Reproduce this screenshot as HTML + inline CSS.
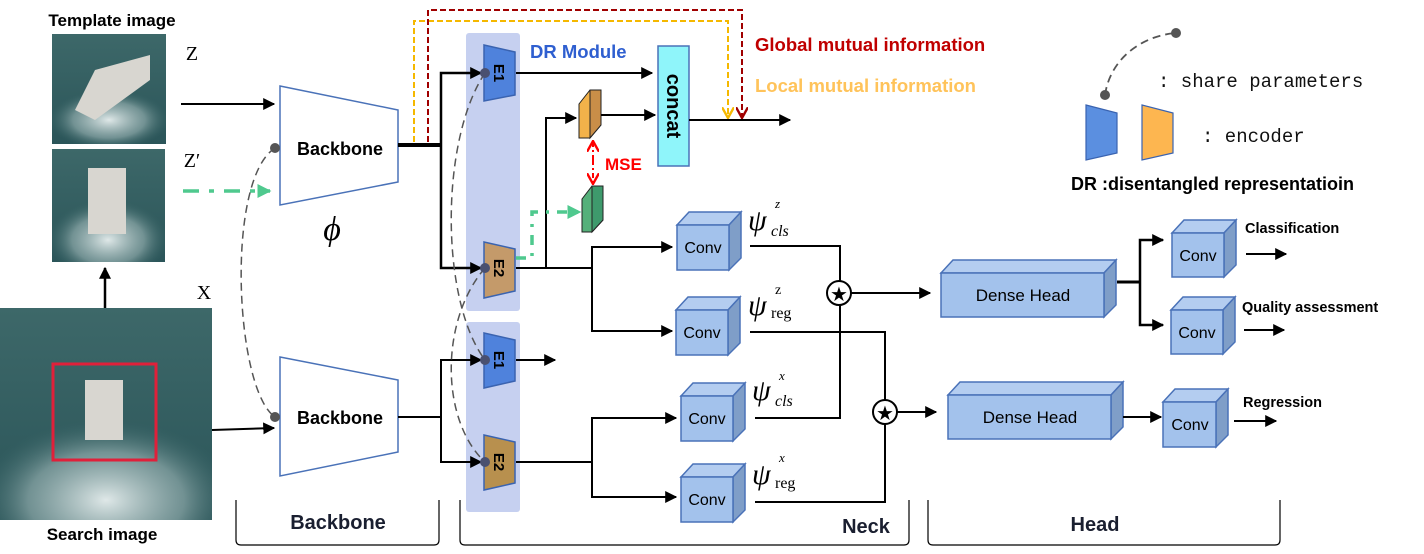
<!DOCTYPE html>
<html><head><meta charset="utf-8"><style>
html,body{margin:0;padding:0;background:#fff}
svg{display:block}
text{font-family:"Liberation Sans",sans-serif}
.b{font-weight:bold}
text.ser{font-family:"Liberation Serif",serif}
text.mono{font-family:"Liberation Mono",monospace}
</style></head><body>
<svg width="1424" height="554" viewBox="0 0 1424 554" xmlns="http://www.w3.org/2000/svg">
<defs>
<marker id="ar2" viewBox="0 0 10 10" refX="9" refY="5" markerWidth="12" markerHeight="12" orient="auto" markerUnits="userSpaceOnUse"><path d="M0,0 L10,5 L0,10z" fill="#000"/></marker>
<marker id="ag" viewBox="0 0 10 10" refX="9" refY="5" markerWidth="14" markerHeight="14" orient="auto" markerUnits="userSpaceOnUse"><path d="M0,0 L10,5 L0,10z" fill="#4fc98e"/></marker>
<marker id="vy" viewBox="0 0 10 10" refX="9" refY="5" markerWidth="12" markerHeight="12" orient="auto" markerUnits="userSpaceOnUse"><path d="M0,0 L9,5 L0,10" fill="none" stroke="#f5b800" stroke-width="2"/></marker>
<marker id="vr" viewBox="0 0 10 10" refX="9" refY="5" markerWidth="12" markerHeight="12" orient="auto" markerUnits="userSpaceOnUse"><path d="M0,0 L9,5 L0,10" fill="none" stroke="#a00000" stroke-width="2"/></marker>
<marker id="vm" viewBox="0 0 10 10" refX="9" refY="5" markerWidth="12" markerHeight="12" orient="auto" markerUnits="userSpaceOnUse"><path d="M0,0 L9,5 L0,10" fill="none" stroke="#ff0000" stroke-width="2"/></marker>
<linearGradient id="sea" x1="0" y1="0" x2="0" y2="1"><stop offset="0" stop-color="#3d6869"/><stop offset="1" stop-color="#2b5559"/></linearGradient>
<radialGradient id="wake" cx="0.5" cy="0.5" r="0.5"><stop offset="0" stop-color="#dfe8e8"/><stop offset="0.6" stop-color="#9fb8b8" stop-opacity="0.6"/><stop offset="1" stop-color="#3f6b6c" stop-opacity="0"/></radialGradient>
<clipPath id="c1"><rect x="52" y="34" width="114" height="110"/></clipPath>
<clipPath id="c2"><rect x="52" y="149" width="113" height="113"/></clipPath>
<clipPath id="c3"><rect x="0" y="308" width="212" height="212"/></clipPath>
</defs>

<!-- images -->
<text x="112" y="26" text-anchor="middle" class="b" font-size="17">Template image</text>
<rect x="52" y="34" width="114" height="110" fill="url(#sea)"/>
<ellipse cx="109" cy="120" rx="60" ry="30" fill="url(#wake)" clip-path="url(#c1)"/>
<path d="M75,110 L95,70 L150,55 L150,80 L95,120z" fill="#d8d6d0"/>
<rect x="52" y="149" width="113" height="113" fill="url(#sea)"/>
<ellipse cx="108" cy="240" rx="60" ry="40" fill="url(#wake)" clip-path="url(#c2)"/>
<rect x="88" y="168" width="38" height="66" fill="#d8d6d0"/>
<line x1="105" y1="310" x2="105" y2="268" stroke="#000" stroke-width="2.5" marker-end="url(#ar2)"/>
<rect x="0" y="308" width="212" height="212" fill="url(#sea)"/>
<ellipse cx="106" cy="500" rx="130" ry="80" fill="url(#wake)" clip-path="url(#c3)"/>
<rect x="85" y="380" width="38" height="60" fill="#d8d6d0"/>
<rect x="53" y="364" width="103" height="96" fill="none" stroke="#e0203a" stroke-width="3"/>
<text x="102" y="540" text-anchor="middle" class="b" font-size="17">Search image</text>

<text x="192" y="60" class="ser" font-size="20" text-anchor="middle">Z</text>
<text x="192" y="167" class="ser" font-size="20" text-anchor="middle">Z′</text>
<text x="204" y="299" class="ser" font-size="20" text-anchor="middle">X</text>
<line x1="181" y1="104" x2="274" y2="104" stroke="#000" stroke-width="2" marker-end="url(#ar2)"/>
<line x1="183" y1="191" x2="270" y2="191" stroke="#4fc98e" stroke-width="3.5" stroke-dasharray="16,10,5,10" marker-end="url(#ag)"/>
<line x1="212" y1="430" x2="274" y2="428" stroke="#000" stroke-width="2" marker-end="url(#ar2)"/>

<!-- backbones -->
<polygon points="280,86 398,110 398,182 280,205" fill="#fff" stroke="#4a72b8" stroke-width="1.5"/>
<text x="340" y="155" text-anchor="middle" class="b" font-size="18">Backbone</text>
<text x="332" y="240" text-anchor="middle" class="ser" font-style="italic" font-size="34">ϕ</text>
<polygon points="280,357 398,380 398,452 280,476" fill="#fff" stroke="#4a72b8" stroke-width="1.5"/>
<text x="340" y="424" text-anchor="middle" class="b" font-size="18">Backbone</text>
<path d="M275,148 C225,180 235,390 275,417" fill="none" stroke="#555" stroke-width="1.5" stroke-dasharray="8,5"/>
<circle cx="275" cy="148" r="5" fill="#555"/><circle cx="275" cy="417" r="5" fill="#555"/>

<!-- panels -->
<rect x="466" y="33" width="54" height="278" rx="3" fill="#c6d0f0"/>
<rect x="466" y="322" width="54" height="190" rx="3" fill="#c6d0f0"/>

<line x1="398" y1="145" x2="441" y2="145" stroke="#000" stroke-width="4"/>
<polyline points="441,145 441,73 481,73" fill="none" stroke="#000" stroke-width="2.5" marker-end="url(#ar2)"/>
<polyline points="441,145 441,268 481,268" fill="none" stroke="#000" stroke-width="2.5" marker-end="url(#ar2)"/>
<line x1="398" y1="417" x2="441" y2="417" stroke="#000" stroke-width="2"/>
<polyline points="441,417 441,360 481,360" fill="none" stroke="#000" stroke-width="2" marker-end="url(#ar2)"/>
<polyline points="441,417 441,462 481,462" fill="none" stroke="#000" stroke-width="2" marker-end="url(#ar2)"/>

<!-- MI dashed -->
<polyline points="414,142 414,21 728,21 728,118" fill="none" stroke="#f5b800" stroke-width="2" stroke-dasharray="6,3" marker-end="url(#vy)"/>
<polyline points="428,142 428,10 742,10 742,118" fill="none" stroke="#a00000" stroke-width="2" stroke-dasharray="6,3" marker-end="url(#vr)"/>
<text x="755" y="51" class="b" font-size="18.5" fill="#c00000">Global mutual information</text>
<text x="755" y="92" class="b" font-size="18.5" fill="#ffc35a">Local mutual information</text>
<text x="530" y="58" class="b" font-size="18.5" fill="#2f5fd0">DR Module</text>

<!-- encoders -->
<g stroke="#3a63b0" stroke-width="1.5">
<polygon points="484,45 515,52 515,95 484,101" fill="#4f82dc"/>
<polygon points="484,242 515,249 515,291 484,298" fill="#c49a6a"/>
<polygon points="484,333 515,340 515,381 484,388" fill="#4f82dc"/>
<polygon points="484,435 515,442 515,483 484,490" fill="#b8904e"/>
</g>
<g class="b" font-size="15">
<text transform="translate(494,73) rotate(90)" text-anchor="middle" class="b">E1</text>
<text transform="translate(494,268) rotate(90)" text-anchor="middle" class="b">E2</text>
<text transform="translate(494,360) rotate(90)" text-anchor="middle" class="b">E1</text>
<text transform="translate(494,462) rotate(90)" text-anchor="middle" class="b">E2</text>
</g>
<path d="M485,73 C440,140 440,300 485,360" fill="none" stroke="#555" stroke-width="1.5" stroke-dasharray="8,5"/>
<path d="M485,268 C440,320 440,420 485,462" fill="none" stroke="#555" stroke-width="1.5" stroke-dasharray="8,5"/>
<g fill="#4a5070"><circle cx="485" cy="73" r="5"/><circle cx="485" cy="268" r="5"/><circle cx="485" cy="360" r="5"/><circle cx="485" cy="462" r="5"/></g>

<line x1="516" y1="73" x2="652" y2="73" stroke="#000" stroke-width="2" marker-end="url(#ar2)"/>
<line x1="516" y1="360" x2="555" y2="360" stroke="#000" stroke-width="2" marker-end="url(#ar2)"/>
<rect x="658" y="46" width="31" height="120" fill="#8ff5fa" stroke="#4a72b8" stroke-width="1.5"/>
<text transform="translate(667,106) rotate(90)" text-anchor="middle" class="b" font-size="20">concat</text>
<line x1="689" y1="120" x2="790" y2="120" stroke="#000" stroke-width="2" marker-end="url(#ar2)"/>
<polygon points="579,104 590,90 601,90 601,125 590,138 579,138" fill="#f2b24a" stroke="#222" stroke-width="1"/>
<polygon points="590,90 601,90 601,125 590,138" fill="#c98e48" stroke="#222" stroke-width="1"/>
<polygon points="582,199 592,186 603,186 603,220 592,232 582,232" fill="#55b07a" stroke="#222" stroke-width="1"/>
<polygon points="592,186 603,186 603,220 592,232" fill="#3e9a6c" stroke="#222" stroke-width="1"/>
<polyline points="516,268 592,268" fill="none" stroke="#000" stroke-width="2"/>
<polyline points="546,268 546,118 576,118" fill="none" stroke="#000" stroke-width="2" marker-end="url(#ar2)"/>
<line x1="601" y1="115" x2="655" y2="115" stroke="#000" stroke-width="2" marker-end="url(#ar2)"/>
<polyline points="516,258 532,258 532,212 580,212" fill="none" stroke="#4fc98e" stroke-width="3.5" stroke-dasharray="10,8,3,8" marker-end="url(#ag)"/>
<line x1="593" y1="160" x2="593" y2="141" stroke="#ff0000" stroke-width="2" stroke-dasharray="5,3,2,3" marker-end="url(#vm)"/>
<line x1="593" y1="160" x2="593" y2="184" stroke="#ff0000" stroke-width="2" stroke-dasharray="5,3,2,3" marker-end="url(#vm)"/>
<text x="605" y="170" class="b" font-size="17" fill="#ff0000">MSE</text>

<polyline points="592,268 592,247 672,247" fill="none" stroke="#000" stroke-width="2" marker-end="url(#ar2)"/>
<polyline points="592,268 592,331 672,331" fill="none" stroke="#000" stroke-width="2" marker-end="url(#ar2)"/>
<line x1="516" y1="462" x2="592" y2="462" stroke="#000" stroke-width="2"/>
<polyline points="592,462 592,418 676,418" fill="none" stroke="#000" stroke-width="2" marker-end="url(#ar2)"/>
<polyline points="592,462 592,497 676,497" fill="none" stroke="#000" stroke-width="2" marker-end="url(#ar2)"/>

<!-- cubes -->
<g stroke="#4a72b8" stroke-width="1.5">
<polygon points="677,225 689,212 741,212 729,225" fill="#b4cdf0"/><polygon points="729,225 741,212 741,258 729,270" fill="#7f9ec8"/><rect x="677" y="225" width="52" height="45" fill="#a3c2ec"/>
<polygon points="676,310 688,297 740,297 728,310" fill="#b4cdf0"/><polygon points="728,310 740,297 740,343 728,355" fill="#7f9ec8"/><rect x="676" y="310" width="52" height="45" fill="#a3c2ec"/>
<polygon points="681,396 693,383 745,383 733,396" fill="#b4cdf0"/><polygon points="733,396 745,383 745,429 733,441" fill="#7f9ec8"/><rect x="681" y="396" width="52" height="45" fill="#a3c2ec"/>
<polygon points="681,477 693,464 745,464 733,477" fill="#b4cdf0"/><polygon points="733,477 745,464 745,510 733,522" fill="#7f9ec8"/><rect x="681" y="477" width="52" height="45" fill="#a3c2ec"/>
<polygon points="941,273 953,260 1116,260 1104,273" fill="#b4cdf0"/><polygon points="1104,273 1116,260 1116,305 1104,317" fill="#7f9ec8"/><rect x="941" y="273" width="163" height="44" fill="#a3c2ec"/>
<polygon points="948,395 960,382 1123,382 1111,395" fill="#b4cdf0"/><polygon points="1111,395 1123,382 1123,427 1111,439" fill="#7f9ec8"/><rect x="948" y="395" width="163" height="44" fill="#a3c2ec"/>
<polygon points="1172,233 1184,220 1236,220 1224,233" fill="#b4cdf0"/><polygon points="1224,233 1236,220 1236,265 1224,277" fill="#7f9ec8"/><rect x="1172" y="233" width="52" height="44" fill="#a3c2ec"/>
<polygon points="1171,310 1183,297 1235,297 1223,310" fill="#b4cdf0"/><polygon points="1223,310 1235,297 1235,342 1223,354" fill="#7f9ec8"/><rect x="1171" y="310" width="52" height="44" fill="#a3c2ec"/>
<polygon points="1163,402 1175,389 1228,389 1216,402" fill="#b4cdf0"/><polygon points="1216,402 1228,389 1228,435 1216,447" fill="#7f9ec8"/><rect x="1163" y="402" width="53" height="45" fill="#a3c2ec"/>
</g>
<g font-size="16" text-anchor="middle">
<text x="703" y="253">Conv</text><text x="702" y="338">Conv</text><text x="707" y="424">Conv</text><text x="707" y="505">Conv</text>
<text x="1198" y="261">Conv</text><text x="1197" y="338">Conv</text><text x="1190" y="430">Conv</text>
<text x="1023" y="301" font-size="17">Dense Head</text><text x="1030" y="423" font-size="17">Dense Head</text>
</g>
<!-- psi labels -->
<text class="ser" font-style="italic" x="748" y="230" font-size="30">ψ</text><text class="ser" font-style="italic" x="775" y="208" font-size="13">z</text><text class="ser" font-style="italic" x="771" y="236" font-size="16">cls</text>
<text class="ser" font-style="italic" x="748" y="315" font-size="30">ψ</text><text class="ser" x="775" y="294" font-size="14">z</text><text class="ser" x="771" y="318" font-size="16">reg</text>
<text class="ser" font-style="italic" x="752" y="400" font-size="30">ψ</text><text class="ser" font-style="italic" x="779" y="380" font-size="13">x</text><text class="ser" font-style="italic" x="775" y="406" font-size="16">cls</text>
<text class="ser" font-style="italic" x="752" y="484" font-size="30">ψ</text><text class="ser" font-style="italic" x="779" y="462" font-size="13">x</text><text class="ser" x="775" y="488" font-size="16">reg</text>
<g fill="none" stroke="#000" stroke-width="2">
<polyline points="750,246 840,246 840,418 755,418"/>
<polyline points="750,332 885,332 885,502 755,502"/>
</g>
<circle cx="839" cy="293" r="12" fill="#fff" stroke="#000" stroke-width="2"/>
<text x="839" y="301" text-anchor="middle" font-size="20">★</text>
<circle cx="885" cy="412" r="12" fill="#fff" stroke="#000" stroke-width="2"/>
<text x="885" y="420" text-anchor="middle" font-size="20">★</text>
<line x1="851" y1="293" x2="930" y2="293" stroke="#000" stroke-width="2" marker-end="url(#ar2)"/>
<line x1="897" y1="412" x2="936" y2="412" stroke="#000" stroke-width="2" marker-end="url(#ar2)"/>

<line x1="1117" y1="282" x2="1140" y2="282" stroke="#000" stroke-width="3"/>
<polyline points="1140,282 1140,240 1163,240" fill="none" stroke="#000" stroke-width="2.5" marker-end="url(#ar2)"/>
<polyline points="1140,282 1140,325 1163,325" fill="none" stroke="#000" stroke-width="2.5" marker-end="url(#ar2)"/>
<line x1="1123" y1="417" x2="1161" y2="417" stroke="#000" stroke-width="2" marker-end="url(#ar2)"/>
<line x1="1246" y1="254" x2="1286" y2="254" stroke="#000" stroke-width="2" marker-end="url(#ar2)"/>
<line x1="1244" y1="330" x2="1284" y2="330" stroke="#000" stroke-width="2" marker-end="url(#ar2)"/>
<line x1="1234" y1="421" x2="1276" y2="421" stroke="#000" stroke-width="2" marker-end="url(#ar2)"/>
<text x="1245" y="233" class="b" font-size="14.5">Classification</text>
<text x="1242" y="312" class="b" font-size="14.5">Quality assessment</text>
<text x="1243" y="407" class="b" font-size="14.5">Regression</text>

<!-- legend -->
<path d="M1105,95 C1110,60 1140,36 1176,33" fill="none" stroke="#555" stroke-width="1.8" stroke-dasharray="8,5"/>
<circle cx="1105" cy="95" r="5" fill="#555"/><circle cx="1176" cy="33" r="5" fill="#555"/>
<text x="1158" y="87" class="mono" font-size="19" fill="#111">: share parameters</text>
<polygon points="1086,105 1117,113 1117,153 1086,160" fill="#5b8fe0" stroke="#3a63b0" stroke-width="1.2"/>
<polygon points="1142,105 1173,113 1173,153 1142,160" fill="#fdb650" stroke="#3a63b0" stroke-width="1.2"/>
<text x="1202" y="142" class="mono" font-size="19" fill="#111">: encoder</text>
<text x="1071" y="190" class="b" font-size="18">DR :disentangled representatioin</text>

<g fill="none" stroke="#000" stroke-width="1.2">
<path d="M236,500 L236,540 Q236,545 241,545 L434,545 Q439,545 439,540 L439,500"/>
<path d="M460,500 L460,540 Q460,545 465,545 L904,545 Q909,545 909,540 L909,500"/>
<path d="M928,500 L928,540 Q928,545 933,545 L1275,545 Q1280,545 1280,540 L1280,500"/>
</g>
<text x="338" y="529" text-anchor="middle" class="b" font-size="20" fill="#1a1f30">Backbone</text>
<text x="866" y="533" text-anchor="middle" class="b" font-size="20" fill="#1a1f30">Neck</text>
<text x="1095" y="531" text-anchor="middle" class="b" font-size="20" fill="#1a1f30">Head</text>
</svg>
</body></html>
